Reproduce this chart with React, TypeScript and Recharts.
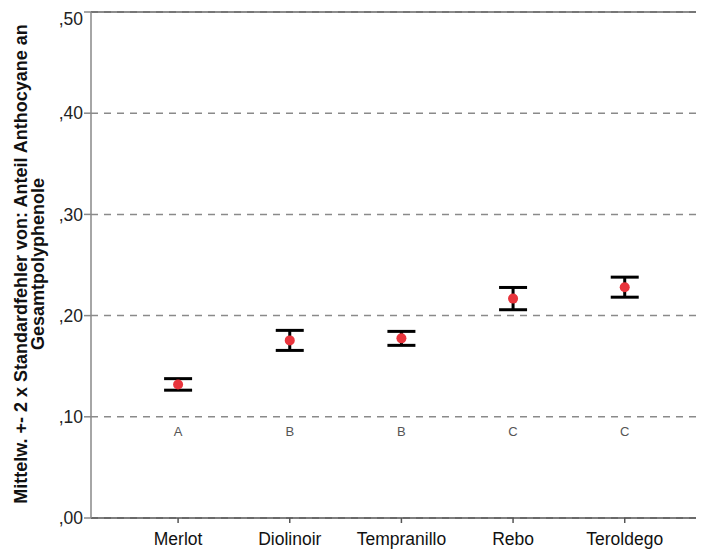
import * as React from 'react';
import {
  ScatterChart, Scatter, XAxis, YAxis, CartesianGrid, ErrorBar, ReferenceLine,
} from 'recharts';

const categories = ['Merlot', 'Diolinoir', 'Tempranillo', 'Rebo', 'Teroldego'];
const means = [0.132, 0.1755, 0.1775, 0.2168, 0.2281];
const errors = [0.0057, 0.0099, 0.0069, 0.011, 0.0099];
const letters = ['A', 'B', 'B', 'C', 'C'];
const yTicks = [0, 0.1, 0.2, 0.3, 0.4, 0.5];

const LETTER_LEVEL = 0.085;
const FONT = 'Liberation Sans';

const points = categories.map((name, i) => ({ idx: i, name, mean: means[i], err: errors[i] }));
const letterPoints = categories.map((name, i) => ({ idx: i, mean: LETTER_LEVEL, letter: letters[i] }));

const fmt = (v: number) => ',' + v.toFixed(2).split('.')[1];

const RedDot = (props: any) => {
  const { cx, cy } = props;
  return <circle cx={cx} cy={cy} r={5} fill="#e8343c" />;
};

const LetterShape = (props: any) => {
  const { cx, cy, payload } = props;
  return (
    <text x={cx} y={cy} textAnchor="middle" dominantBaseline="central" fontSize={13} fill="#555"
      fontFamily={FONT}>
      {payload.letter}
    </text>
  );
};

const YLabel = (props: any) => {
  const cy = 256;
  return (
    <g fontFamily={FONT} fontSize={18} fontWeight={700} fill="#111">
      <text x={13} y={cy} transform={`rotate(-90 13 ${cy})`} textAnchor="middle" dominantBaseline="central">
        Mittelw. +- 2 x Standardfehler von: Anteil Anthocyane an
      </text>
      <text x={30} y={cy} transform={`rotate(-90 30 ${cy})`} textAnchor="middle" dominantBaseline="central">
        Gesamtpolyphenole
      </text>
    </g>
  );
};

export default function App() {
  return (
    <ScatterChart width={696} height={543} margin={{ top: 4, right: 0, bottom: 0, left: 0 }}
      style={{ fontFamily: FONT }}>
      <CartesianGrid horizontal vertical={false} stroke="#8a8a8a" strokeWidth={1.5} strokeDasharray="7 6" />
      <ReferenceLine y={0.5} stroke="#666" strokeWidth={1.5} />
      <XAxis type="number" dataKey="idx" domain={[-0.78, 4.71]} ticks={[0, 1, 2, 3, 4]}
        tickFormatter={(v: number) => categories[v]} height={33} tickSize={5} tickMargin={10}
        stroke="#555" strokeWidth={1.5} tick={{ fill: '#111', fontSize: 17.5, fontFamily: FONT }} allowDataOverflow />
      <YAxis type="number" dataKey="mean" domain={[0, 0.5]} ticks={yTicks} tickFormatter={fmt}
        width={83} tickSize={7} tickMargin={1} stroke="#888" strokeWidth={1.5}
        tick={{ fill: '#222', fontSize: 17.5, fontFamily: FONT }} label={<YLabel />} />
      <Scatter data={letterPoints} shape={<LetterShape />} isAnimationActive={false} />
      <Scatter data={points} shape={<RedDot />} isAnimationActive={false}>
        <ErrorBar dataKey="err" direction="y" width={14} stroke="#000" strokeWidth={3} />
      </Scatter>
    </ScatterChart>
  );
}
